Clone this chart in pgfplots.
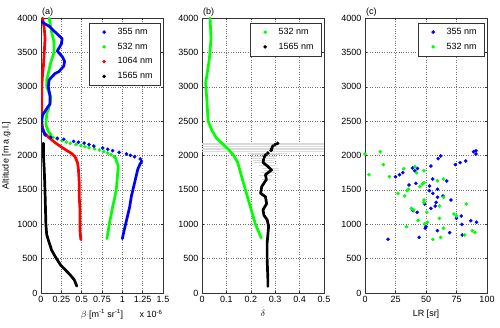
\documentclass[border=0pt]{standalone}
\usepackage{fontspec}
\setmainfont{Liberation Sans}
\usepackage{pgfplots}
\pgfplotsset{compat=1.18}

\definecolor{mblue}{RGB}{0,0,255}
\definecolor{mgreen}{RGB}{0,255,0}
\definecolor{mred}{RGB}{255,0,0}

\newcommand{\fs}{\fontsize{9}{10.8}\selectfont}

\pgfplotsset{
  panel/.style={
    scale only axis, width=122pt, height=275pt,
    anchor=south west,
    ymin=0, ymax=4000, ytick={0,500,...,4000},
    grid=major, grid style={dotted, black!55, line width=0.4pt},
    axis line style={black!80, line width=0.5pt},
    tick style={black!80, line width=0.4pt},
    major tick length=2pt, tick align=inside,
    ticklabel style={font=\fs},
    label style={font=\fs},
    /pgf/number format/assume math mode=true,
    /pgf/number format/1000 sep={},
    scaled ticks=false,
    clip mode=individual,
    legend style={at={(rel axis cs:0.975,0.982)}, anchor=north east,
      draw=black!80, fill=white, font=\fs, inner xsep=5pt, inner ysep=3pt,
      row sep=3pt, cells={anchor=west}},
    legend image code/.code={\draw[#1] plot coordinates {(0.35cm,0cm)};
      \path (0cm,0cm) (0.75cm,0cm);},
  },
  prof/.style={line width=2.7pt, line join=round, line cap=round, forget plot},
  dots/.style={only marks, mark=*, mark size=1.6pt},
}

\begin{document}
\begin{tikzpicture}
\useasboundingbox (0,0) rectangle (500pt,328pt);

% (a) backscatter coefficient
\begin{axis}[panel, at={(41pt,35pt)},
  xmin=0, xmax=1.5, xtick={0,0.25,...,1.5},
  ylabel={Altitude [m a.g.l.]},
  xlabel={$\beta$ [m\textsuperscript{-1} sr\textsuperscript{-1}]},
]
\addlegendimage{dots, mblue}
\addlegendimage{dots, mgreen}
\addlegendimage{dots, mred}
\addlegendimage{dots, black}
\legend{355 nm, 532 nm, 1064 nm, 1565 nm}

% 1064 nm
\addplot[prof, mred] coordinates {
(0.02,4000) (0.04,3850) (0.05,3700) (0.04,3500) (0.03,3300) (0.02,3200)
(0.01,3000) (0.01,2800) (0.01,2500) (0.02,2400) (0.04,2330) (0.09,2269)
(0.17,2190) (0.25,2124) (0.32,2070) (0.37,2036) (0.42,1980) (0.45,1891)
(0.46,1800) (0.47,1600) (0.47,1400) (0.48,1200) (0.48,1062) (0.48,900)
(0.49,775)
};
% 532 nm
\addplot[prof, mgreen] coordinates {
(0.10,4000) (0.13,3800) (0.16,3650) (0.16,3500) (0.12,3350) (0.09,3200)
(0.07,3100) (0.07,3000) (0.12,2850) (0.11,2750) (0.07,2600) (0.06,2450)
(0.09,2350) (0.12,2300)
};
\addplot[dots, mgreen, forget plot] coordinates {
(0.12,2300) (0.15,2264) (0.20,2240) (0.26,2215) (0.31,2196) (0.36,2177)
(0.43,2160) (0.49,2143) (0.54,2128) (0.59,2114) (0.66,2097) (0.72,2080)
(0.77,2058) (0.82,2036) (0.86,2010) (0.90,1983) (0.92,1960)
};
\addplot[prof, mgreen] coordinates {
(0.92,1940) (0.95,1850) (0.94,1700) (0.925,1500) (0.90,1350) (0.88,1250)
(0.84,1000) (0.81,790)
};
% 355 nm
\addplot[prof, mblue] coordinates {
(0.00,3950) (0.10,3880) (0.17,3800) (0.26,3700) (0.25,3620) (0.20,3520)
(0.26,3440) (0.29,3370) (0.28,3300) (0.22,3220) (0.17,3190) (0.10,3100)
(0.09,3000) (0.11,2870) (0.11,2750) (0.07,2680) (0.02,2590) (0.00,2440)
(0.05,2300)
};
\addplot[dots, mblue, forget plot] coordinates {
(0.05,2300) (0.12,2265) (0.20,2250) (0.28,2235) (0.40,2205) (0.46,2192)
(0.53,2180) (0.59,2160) (0.65,2138) (0.76,2109) (0.82,2090) (0.88,2070)
(0.96,2046) (1.05,2022) (1.10,2002) (1.15,1983) (1.22,1950)
};
\addplot[prof, mblue] coordinates {
(1.24,1920) (1.22,1880) (1.19,1800) (1.17,1700) (1.15,1600) (1.13,1500)
(1.11,1400) (1.09,1250) (1.06,1100) (1.04,1000) (1.02,900) (1.00,790)
};
% 1565 nm
\addplot[prof, black] coordinates {
(0.03,2180) (0.03,2000) (0.04,1800) (0.05,1450) (0.06,1000) (0.07,850)
(0.09,771) (0.13,625) (0.175,530) (0.24,408) (0.30,335) (0.36,262)
(0.41,190) (0.44,100)
};
\node[font=\fs, anchor=south west, inner sep=1pt] at (rel axis cs:0,1) {(a)};
\end{axis}
\node[font=\fs, anchor=base] at (151pt,10pt) {x 10\textsuperscript{-6}};

% (b) depolarisation ratio
\begin{axis}[panel, at={(202pt,35pt)},
  xmin=0, xmax=0.5, xtick={0,0.1,...,0.5},
  xlabel={$\delta$},
]
\addlegendimage{dots, mgreen}
\addlegendimage{dots, black}
\legend{532 nm, 1565 nm}

\addplot[draw=none, forget plot,
  error bars/.cd, x dir=both, x explicit, error mark=none,
  error bar style={draw=black!15, line width=0.3pt}]
  table[x=d, y=h, x error=e] {
d      h     e
0.31   2180  0.40
0.30   2158  0.40
0.29   2136  0.40
0.285  2114  0.40
0.283  2092  0.40
0.28   2070  0.35
0.27   2040  0.08
0.26   2015  0.06
0.256  1988  0.05
0.253  1960  0.05
0.25   1935  0.04
0.255  1900  0.04
0.27   1860  0.035
0.28   1820  0.035
0.285  1790  0.03
0.27   1755  0.03
0.26   1720  0.025
0.264  1650  0.02
};

\addplot[prof, mgreen] coordinates {
(0.033,4000) (0.037,3700) (0.03,3400) (0.015,3050) (0.02,2800) (0.025,2500)
(0.04,2370) (0.06,2250) (0.087,2160) (0.108,2090) (0.13,2000) (0.146,1900)
(0.178,1500) (0.219,1000) (0.243,800)
};
\addplot[dots, black, forget plot] coordinates {
(0.31,2177) (0.30,2160) (0.29,2133) (0.285,2100) (0.283,2075) (0.27,2036)
(0.26,2005) (0.256,1980)
};
\addplot[prof, black] coordinates {
(0.253,1950) (0.25,1900) (0.27,1840) (0.285,1790) (0.26,1720) (0.264,1650)
(0.245,1550) (0.24,1450) (0.26,1400) (0.265,1300) (0.25,1210) (0.254,1130)
(0.267,1065) (0.273,970) (0.267,730) (0.267,490) (0.27,200) (0.27,95)
};
\node[font=\fs, anchor=south west, inner sep=1pt] at (rel axis cs:0,1) {(b)};
\end{axis}

% (c) lidar ratio
\begin{axis}[panel, at={(365pt,35pt)},
  xmin=0, xmax=100, xtick={0,25,...,100},
  xlabel={LR [sr]},
]
\addplot[dots, mblue] coordinates {
(39,1818) (40.8,1779) (54,1847) (25,1692) (28.3,1721) (31,1750) (36,1571)
(41.7,1595) (55.6,1658) (52.8,1556) (52.8,1488) (55.6,1450) (59.4,1508)
(67,1629) (59.4,1392) (58.3,1319) (57.5,1265) (54,1232) (49,1295)
(70.5,1353) (63.9,1411) (39.4,1198) (42.8,1173) (78.9,1120) (75,1086)
(86.7,1052) (91.4,1028) (79.4,998) (50,965) (49.4,941) (59.4,907)
(69.4,878) (79.7,844) (44.4,810) (18.9,781) (74,1867) (78,1896)
(82.5,1920) (60,1954) (62,1993) (89,2055) (91,2070) (91,2022)
(43,1810)
};
\addplot[dots, mgreen] coordinates {
(0,2022) (12.5,2055) (15,1867) (3.3,1721) (20,1692) (31.7,1808) (40.8,1838)
(42.2,1750) (48.3,1779) (27,1450) (32.5,1411) (34.4,1488) (35.6,1508)
(45,1547) (47,1585) (48.3,1605) (59.4,1634) (64.4,1658) (64.4,1392)
(61,1265) (48.3,1353) (48.3,1314) (38,1232) (40,1207) (50.6,1173)
(43.6,1057) (51,1028) (49,1004) (34,965) (61,1086) (64.4,941) (73,1149)
(75,1120) (83,1294) (81.7,844) (88,907) (90,882) (62,810) (55.6,781)
};
\legend{355 nm, 532 nm}
\node[font=\fs, anchor=south west, inner sep=1pt] at (rel axis cs:0,1) {(c)};
\end{axis}
\end{tikzpicture}
\end{document}
